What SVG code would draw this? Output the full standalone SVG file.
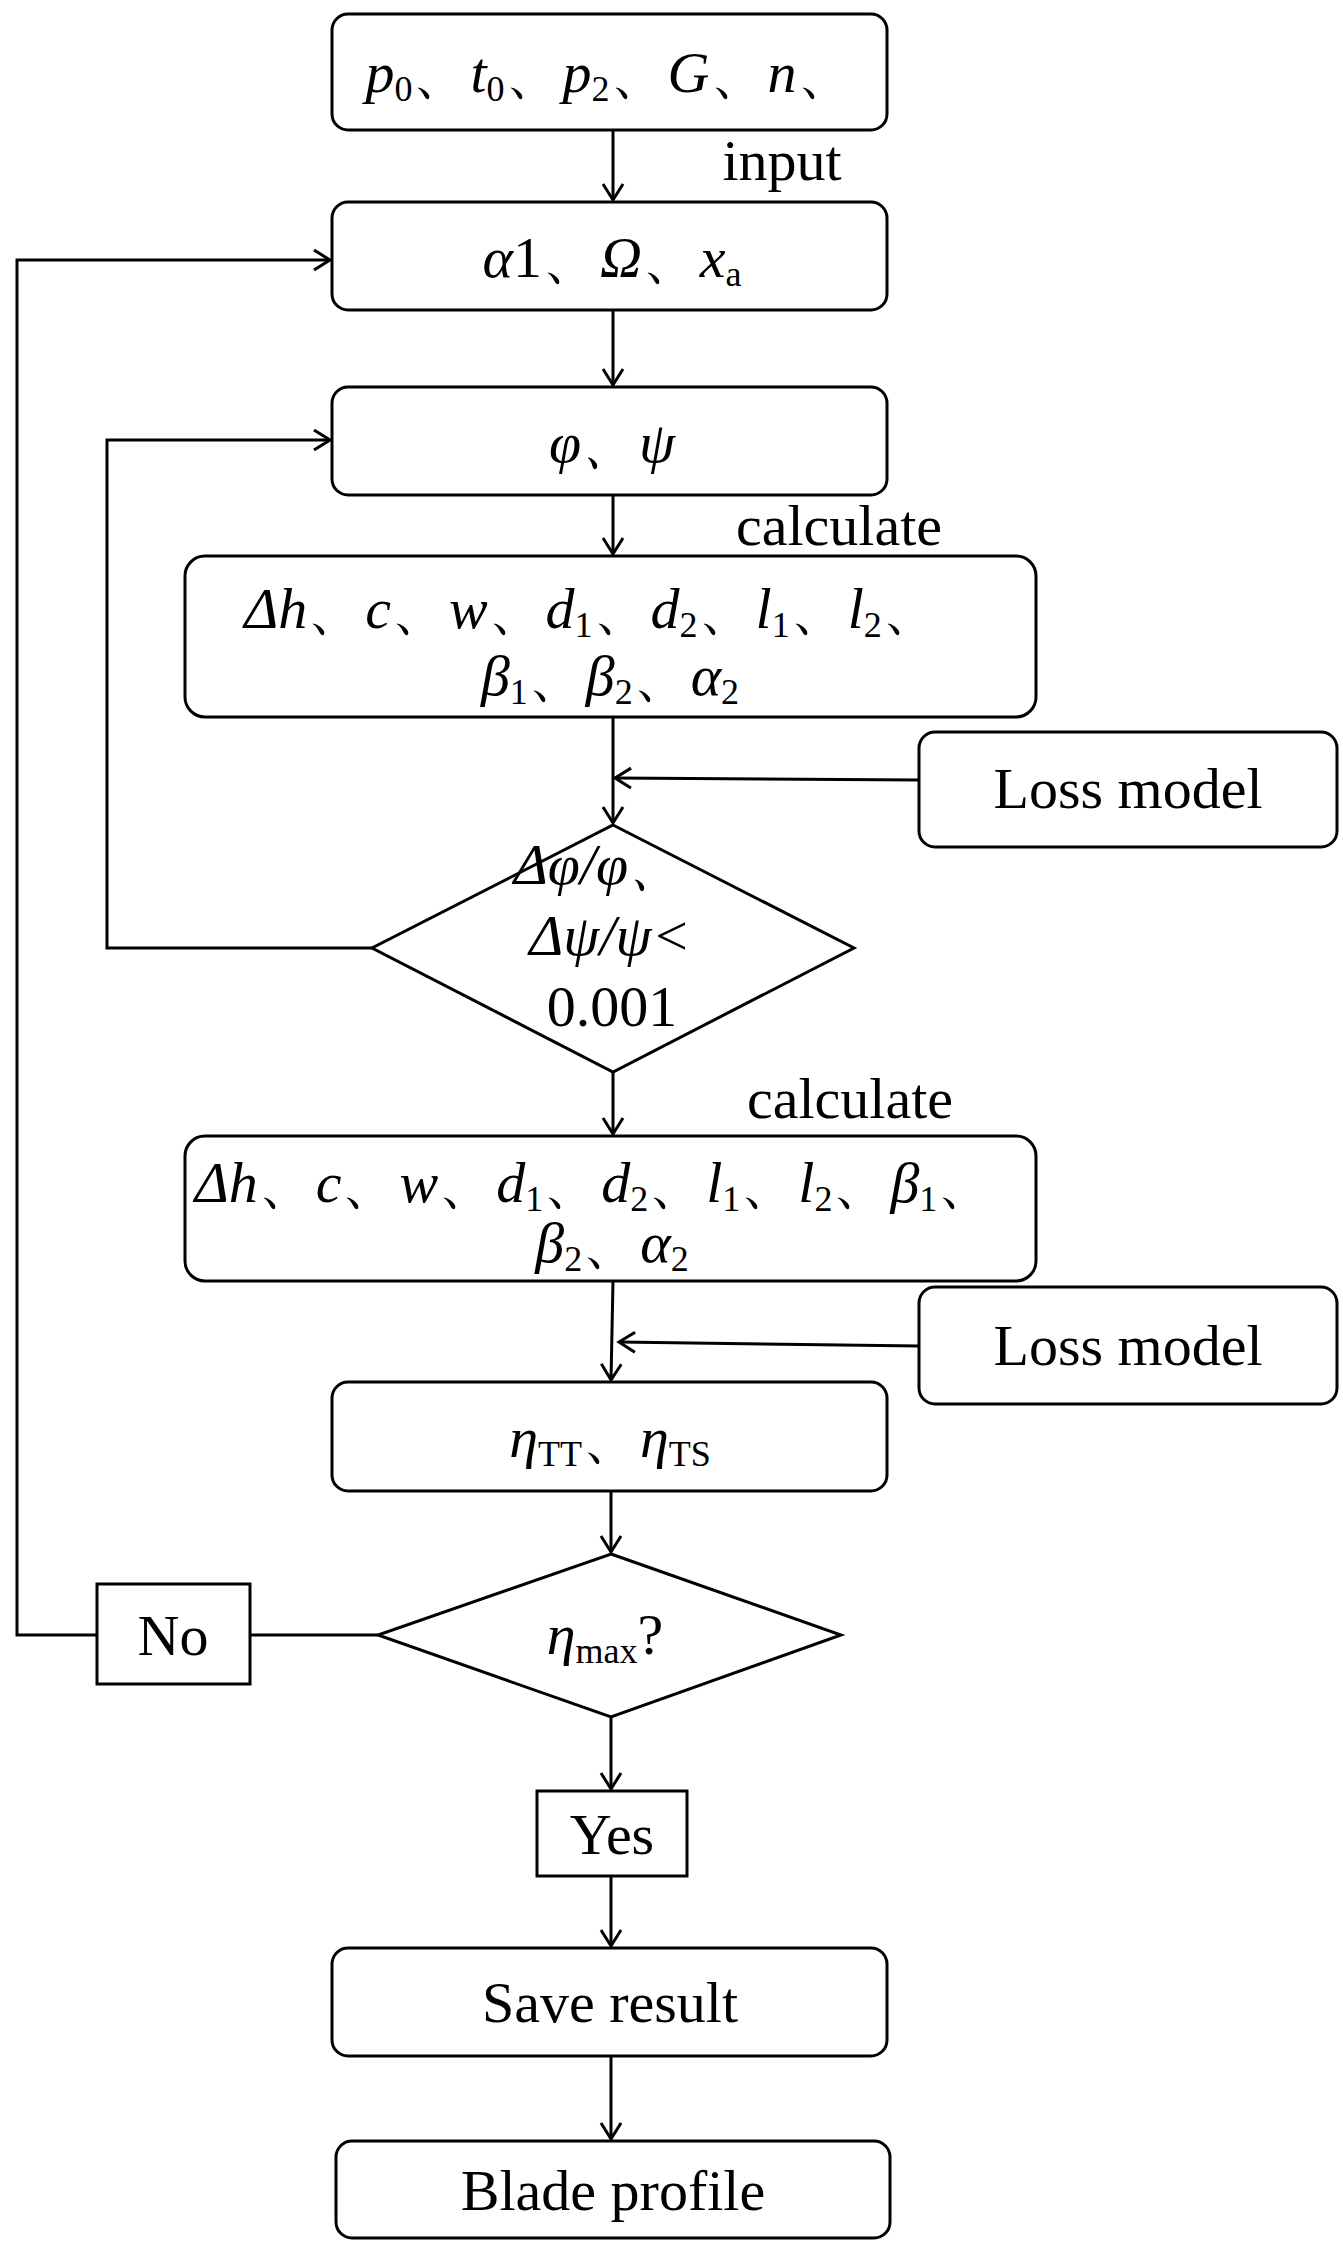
<svg xmlns="http://www.w3.org/2000/svg" width="1343" height="2244" viewBox="0 0 1343 2244">
<style>
.b{fill:#fff;stroke:#000;stroke-width:3}
.c{fill:none;stroke:#000;stroke-width:3}
text{font-family:"Liberation Serif","Times New Roman",serif;font-size:58px;fill:#000;text-anchor:middle}
.i{font-style:italic}
.s{font-size:36px;font-style:normal}
</style>
<defs><marker id="a" markerWidth="24" markerHeight="24" refX="20" refY="12" orient="auto" markerUnits="userSpaceOnUse"><polyline points="4,2 20,12 4,22" fill="none" stroke="#000" stroke-width="3"/></marker></defs>
<rect width="1343" height="2244" fill="#fff"/>
<g id="connectors">
<line class="c" x1="613" y1="130" x2="613" y2="200" marker-end="url(#a)"/>
<line class="c" x1="613" y1="310" x2="613" y2="385" marker-end="url(#a)"/>
<line class="c" x1="613" y1="495" x2="613" y2="554" marker-end="url(#a)"/>
<line class="c" x1="613" y1="717" x2="613" y2="823" marker-end="url(#a)"/>
<line class="c" x1="919" y1="780" x2="615" y2="778" marker-end="url(#a)"/>
<polyline class="c" points="372,948 107,948 107,440 330,440" marker-end="url(#a)"/>
<line class="c" x1="613" y1="1072" x2="613" y2="1134" marker-end="url(#a)"/>
<line class="c" x1="613" y1="1281" x2="611" y2="1380" marker-end="url(#a)"/>
<line class="c" x1="919" y1="1346" x2="619" y2="1342" marker-end="url(#a)"/>
<line class="c" x1="611" y1="1491" x2="611" y2="1552" marker-end="url(#a)"/>
<polyline class="c" points="378,1635 250,1635"/>
<polyline class="c" points="97,1635 17,1635 17,260 330,260" marker-end="url(#a)"/>
<line class="c" x1="611" y1="1717" x2="611" y2="1789" marker-end="url(#a)"/>
<line class="c" x1="611" y1="1876" x2="611" y2="1946" marker-end="url(#a)"/>
<line class="c" x1="611" y1="2056" x2="611" y2="2139" marker-end="url(#a)"/>
</g>
<text x="782" y="180">input</text>
<text x="839" y="545">calculate</text>
<text x="850" y="1118">calculate</text>
<g id="n1"><rect class="b" x="332" y="14" width="555" height="116" rx="16"/>
<text x="610" y="92"><tspan class="i">p</tspan><tspan class="s" dy="9">0</tspan><tspan dy="-9">、</tspan><tspan class="i">t</tspan><tspan class="s" dy="9">0</tspan><tspan dy="-9">、</tspan><tspan class="i">p</tspan><tspan class="s" dy="9">2</tspan><tspan dy="-9">、</tspan><tspan class="i">G</tspan>、<tspan class="i">n</tspan>、</text></g>
<g id="n2"><rect class="b" x="332" y="202" width="555" height="108" rx="16"/>
<text x="612" y="277"><tspan class="i">α</tspan>1、<tspan class="i">Ω</tspan>、<tspan class="i">x</tspan><tspan class="s" dy="9">a</tspan></text></g>
<g id="n3"><rect class="b" x="332" y="387" width="555" height="108" rx="16"/>
<text x="612" y="462" class="i">φ、ψ</text></g>
<g id="n4"><rect class="b" x="185" y="556" width="851" height="161" rx="20"/>
<text x="592" y="628"><tspan class="i">Δh</tspan>、<tspan class="i">c</tspan>、<tspan class="i">w</tspan>、<tspan class="i">d</tspan><tspan class="s" dy="9">1</tspan><tspan dy="-9">、</tspan><tspan class="i">d</tspan><tspan class="s" dy="9">2</tspan><tspan dy="-9">、</tspan><tspan class="i">l</tspan><tspan class="s" dy="9">1</tspan><tspan dy="-9">、</tspan><tspan class="i">l</tspan><tspan class="s" dy="9">2</tspan><tspan dy="-9">、</tspan></text>
<text x="610" y="695"><tspan class="i">β</tspan><tspan class="s" dy="9">1</tspan><tspan dy="-9">、</tspan><tspan class="i">β</tspan><tspan class="s" dy="9">2</tspan><tspan dy="-9">、</tspan><tspan class="i">α</tspan><tspan class="s" dy="9">2</tspan></text></g>
<g id="loss1"><rect class="b" x="919" y="732" width="418" height="115" rx="16"/><text x="1128" y="808">Loss model</text></g>
<g id="d1"><polygon class="b" points="613,825 854,948 613,1072 372,948"/>
<text x="600" y="884" class="i">Δφ/φ、</text><text x="610" y="955" class="i">Δψ/ψ&lt;</text><text x="612" y="1026">0.001</text></g>
<g id="n5"><rect class="b" x="185" y="1136" width="851" height="145" rx="20"/>
<text x="595" y="1202"><tspan class="i">Δh</tspan>、<tspan class="i">c</tspan>、<tspan class="i">w</tspan>、<tspan class="i">d</tspan><tspan class="s" dy="9">1</tspan><tspan dy="-9">、</tspan><tspan class="i">d</tspan><tspan class="s" dy="9">2</tspan><tspan dy="-9">、</tspan><tspan class="i">l</tspan><tspan class="s" dy="9">1</tspan><tspan dy="-9">、</tspan><tspan class="i">l</tspan><tspan class="s" dy="9">2</tspan><tspan dy="-9">、</tspan><tspan class="i">β</tspan><tspan class="s" dy="9">1</tspan><tspan dy="-9">、</tspan></text>
<text x="612" y="1262"><tspan class="i">β</tspan><tspan class="s" dy="9">2</tspan><tspan dy="-9">、</tspan><tspan class="i">α</tspan><tspan class="s" dy="9">2</tspan></text></g>
<g id="loss2"><rect class="b" x="919" y="1287" width="418" height="117" rx="16"/><text x="1128" y="1365">Loss model</text></g>
<g id="n6"><rect class="b" x="332" y="1382" width="555" height="109" rx="16"/>
<text x="610" y="1457"><tspan class="i">η</tspan><tspan class="s" dy="9">TT</tspan><tspan dy="-9">、</tspan><tspan class="i">η</tspan><tspan class="s" dy="9">TS</tspan></text></g>
<g id="d2"><polygon class="b" points="611,1554 841,1635 611,1717 378,1635"/>
<text x="605" y="1654"><tspan class="i">η</tspan><tspan class="s" dy="9">max</tspan><tspan dy="-9">?</tspan></text></g>
<g id="no"><rect class="b" x="97" y="1584" width="153" height="100"/><text x="173" y="1655">No</text></g>
<g id="yes"><rect class="b" x="537" y="1791" width="150" height="85"/><text x="612" y="1854">Yes</text></g>
<g id="save"><rect class="b" x="332" y="1948" width="555" height="108" rx="16"/><text x="610" y="2022">Save result</text></g>
<g id="blade"><rect class="b" x="336" y="2141" width="554" height="97" rx="16"/><text x="613" y="2210">Blade profile</text></g>
</svg>
